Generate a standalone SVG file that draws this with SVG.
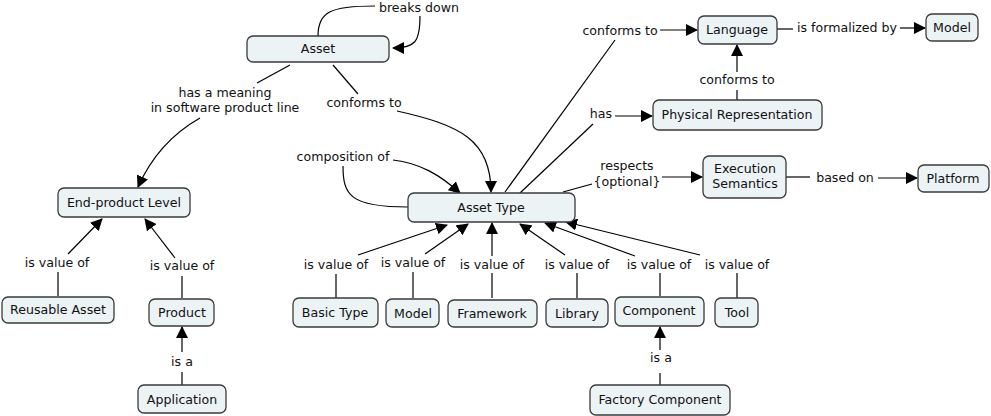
<svg xmlns="http://www.w3.org/2000/svg" width="991" height="416" viewBox="0 0 991 416">
<defs>
<marker id="arr" markerUnits="userSpaceOnUse" markerWidth="12" markerHeight="12" refX="11" refY="6" orient="auto">
<path d="M0,0 L12,6 L0,12 z" fill="#000"/>
</marker>
<style>
.n rect{fill:#ECF3F5;stroke:#3a3a3a;stroke-width:1.3}
text{font-family:"DejaVu Sans",Verdana,sans-serif;font-size:12.6px;fill:#111;text-anchor:middle}
.c path{fill:none;stroke:#000;stroke-width:1.2}
.c path.a{marker-end:url(#arr)}
</style>
</defs>
<rect width="991" height="416" fill="#fff"/>
<g id="connectors" class="c">
<path d="M318,36 C318,12 330,6 375,6"/>
<path class="a" d="M420,16 C420,42 415,48 393,48"/>
<path d="M290,65 L257,83"/>
<path class="a" d="M200,118 C170,135 150,160 138,187"/>
<path d="M333,65 L358,94"/>
<path class="a" d="M397,111 C460,125 491,140 491,192"/>
<path d="M408,207 C350,207 343,195 343,166"/>
<path class="a" d="M393,160 C420,163 440,175 460,193"/>
<path d="M505,192 L615,40"/>
<path class="a" d="M660,30 L697,30"/>
<path d="M520,193 L593,124"/>
<path class="a" d="M615,116 L652,116"/>
<path d="M737,100 L737,90"/>
<path class="a" d="M737,72 L737,45"/>
<path d="M777,29 L793,29"/>
<path class="a" d="M900,28 L925,28"/>
<path d="M563,192 L592,184"/>
<path class="a" d="M662,177 L702,177"/>
<path d="M786,177 L810,177"/>
<path class="a" d="M878,178 L917,178"/>
<path d="M58,296 L58,272"/>
<path class="a" d="M68,254 L102,219"/>
<path d="M182,298 L182,276"/>
<path class="a" d="M175,258 L145,219"/>
<path d="M182,385 L182,372"/>
<path class="a" d="M182,352 L182,327"/>
<path d="M336,298 L336,274"/>
<path class="a" d="M358,255 L447,225"/>
<path d="M413,298 L413,272"/>
<path class="a" d="M425,254 L468,224"/>
<path d="M492,298 L492,273"/>
<path class="a" d="M492,256 L492,223"/>
<path d="M577,298 L577,273"/>
<path class="a" d="M565,255 L520,224"/>
<path d="M660,296 L660,273"/>
<path class="a" d="M635,256 L545,223"/>
<path d="M737,298 L737,273"/>
<path class="a" d="M700,255 L566,222"/>
<path d="M660,385 L660,373"/>
<path class="a" d="M660,350 L660,327"/>
</g>
<g id="labels">
<text x="419" y="12">breaks down</text>
<text x="225" y="97">has a meaning</text>
<text x="225" y="112">in software product line</text>
<text x="364" y="107">conforms to</text>
<text x="343" y="161">composition of</text>
<text x="620" y="35">conforms to</text>
<text x="601" y="118">has</text>
<text x="737" y="84">conforms to</text>
<text x="847" y="32">is formalized by</text>
<text x="627" y="170">respects</text>
<text x="627" y="186">{optional}</text>
<text x="845" y="182">based on</text>
<text x="57" y="267">is value of</text>
<text x="182" y="270">is value of</text>
<text x="182" y="366">is a</text>
<text x="336" y="269">is value of</text>
<text x="413" y="267">is value of</text>
<text x="492" y="269">is value of</text>
<text x="577" y="269">is value of</text>
<text x="659" y="269">is value of</text>
<text x="737" y="269">is value of</text>
<text x="661" y="362">is a</text>
</g>
<g id="asset" class="n"><rect x="247" y="36" width="142" height="26" rx="6"/><text x="318" y="53">Asset</text></g>
<g id="language" class="n"><rect x="698" y="16" width="79" height="28" rx="6"/><text x="737" y="34">Language</text></g>
<g id="model-top" class="n"><rect x="926" y="14" width="52" height="27" rx="6"/><text x="952" y="32">Model</text></g>
<g id="physical-representation" class="n"><rect x="653" y="100" width="169" height="30" rx="6"/><text x="737" y="119">Physical Representation</text></g>
<g id="asset-type" class="n"><rect x="408" y="193" width="167" height="29" rx="6"/><text x="491" y="212">Asset Type</text></g>
<g id="execution-semantics" class="n"><rect x="703" y="156" width="83" height="42" rx="6"/><text x="745" y="173">Execution</text><text x="745" y="188">Semantics</text></g>
<g id="platform" class="n"><rect x="918" y="165" width="71" height="27" rx="6"/><text x="953" y="183">Platform</text></g>
<g id="end-product-level" class="n"><rect x="58" y="188" width="132" height="29" rx="6"/><text x="124" y="207">End-product Level</text></g>
<g id="reusable-asset" class="n"><rect x="2" y="297" width="112" height="26" rx="6"/><text x="58" y="314">Reusable Asset</text></g>
<g id="product" class="n"><rect x="149" y="299" width="65" height="27" rx="6"/><text x="182" y="317">Product</text></g>
<g id="application" class="n"><rect x="138" y="385" width="88" height="28" rx="6"/><text x="182" y="404">Application</text></g>
<g id="basic-type" class="n"><rect x="293" y="298" width="85" height="29" rx="6"/><text x="335" y="317">Basic Type</text></g>
<g id="model" class="n"><rect x="386" y="299" width="53" height="28" rx="6"/><text x="413" y="318">Model</text></g>
<g id="framework" class="n"><rect x="448" y="300" width="89" height="27" rx="6"/><text x="492" y="318">Framework</text></g>
<g id="library" class="n"><rect x="546" y="299" width="62" height="28" rx="6"/><text x="577" y="318">Library</text></g>
<g id="component" class="n"><rect x="615" y="297" width="89" height="29" rx="6"/><text x="659" y="315">Component</text></g>
<g id="tool" class="n"><rect x="715" y="298" width="43" height="29" rx="6"/><text x="737" y="317">Tool</text></g>
<g id="factory-component" class="n"><rect x="590" y="385" width="140" height="30" rx="6"/><text x="660" y="404">Factory Component</text></g>
</svg>
